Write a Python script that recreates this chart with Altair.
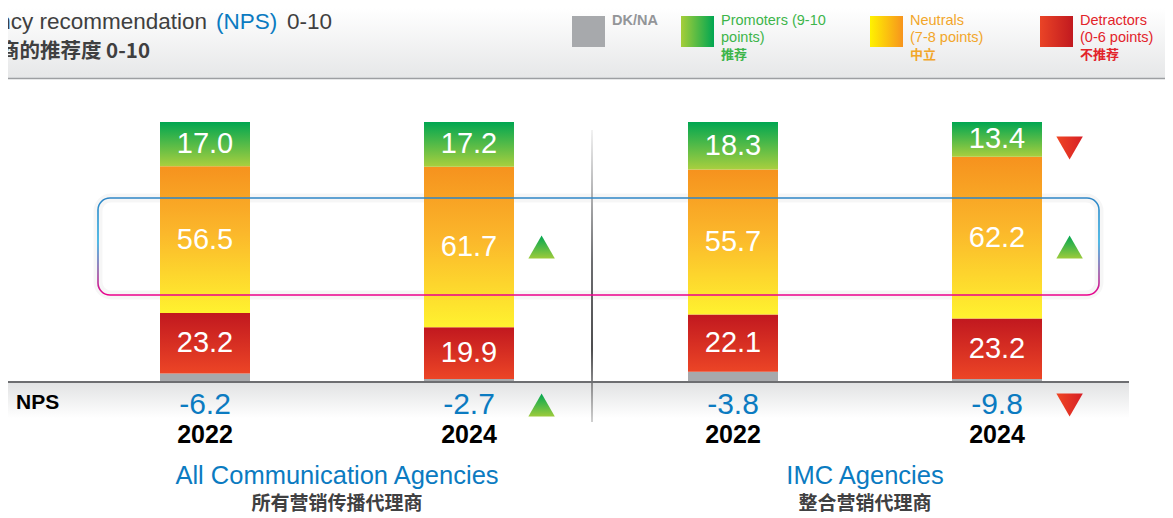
import altair as alt
import pandas as pd

# ---------------- data ----------------
groups = ["All Communication Agencies", "All Communication Agencies", "IMC Agencies", "IMC Agencies"]
group_names = ["All Communication Agencies", "IMC Agencies"]
group_cn = ["所有营销传播代理商", "整合营销代理商"]
years = ["2022", "2024", "2022", "2024"]
promoters = [17.0, 17.2, 18.3, 13.4]
neutrals = [56.5, 61.7, 55.7, 62.2]
detractors = [23.2, 19.9, 22.1, 23.2]
nps = [-6.2, -2.7, -3.8, -9.8]
# significance arrows (2024 vs 2022)
promoter_change = [None, None, None, "down"]
neutral_change = [None, "up", None, "up"]
nps_change = [None, "up", None, "down"]

title_en = ["Agency recommendation", "(NPS)", "0-10"]
title_cn = "代理商的推荐度 0-10"
legend_items = [
    ("DK/NA", [], "#939598"),
    ("Promoters (9-10", ["points)", "推荐"], "#3db54a"),
    ("Neutrals", ["(7-8 points)", "中立"], "#f2a62a"),
    ("Detractors", ["(0-6 points)", "不推荐"], "#e2232a"),
]

# ---------------- tables ----------------
rows = []
for i in range(4):
    dk = round(100 - promoters[i] - neutrals[i] - detractors[i], 1)
    base = 0.0
    for seg, val in [("DK/NA", dk), ("Detractors", detractors[i]),
                     ("Neutrals", neutrals[i]), ("Promoters", promoters[i])]:
        rows.append(dict(idx=i, segment=seg, y0=base, y1=base + val,
                         mid=base + val / 2, label=f"{val:.1f}"))
        base += val
seg_df = pd.DataFrame(rows)

bar_df = pd.DataFrame(dict(idx=list(range(4)), year=years, group=groups,
                           nps=[f"{v:.1f}" for v in nps]))
grp_df = pd.DataFrame(dict(group=group_names, cn=group_cn,
                           gx=[bar_df[bar_df.group == g].idx.mean() for g in group_names]))

arrow_rows = []
for rowname, lst in [("Promoters", promoter_change), ("Neutrals", neutral_change), ("NPS", nps_change)]:
    for i, d in enumerate(lst):
        if d:
            arrow_rows.append(dict(idx=i, ax=i + 0.275, row=rowname, dir=d))
arrow_df = pd.DataFrame(arrow_rows)

one = pd.DataFrame({"k": [0]})

FONT = "Liberation Sans"
CJK = "Noto Sans CJK SC"
BLUE = "#0b7bc1"

W, H = 1157, 507
xs = alt.Scale(domain=[0, 3], range=[197, 989], padding=0)
ys = alt.Scale(domain=[0, 100], range=[374, 114], padding=0)


def grad(stops, horizontal=False):
    g = {"gradient": "linear", "x1": 0, "y1": 0,
         "x2": 1 if horizontal else 0, "y2": 0 if horizontal else 1,
         "stops": [{"offset": o, "color": c} for o, c in stops]}
    return g


def box(x, x2, y, y2, **kw):
    return alt.Chart(one).mark_rect(**kw).encode(
        x=alt.value(x), x2=alt.value(x2), y=alt.value(y), y2=alt.value(y2))


def label(text, x, y, **kw):
    return alt.Chart(one).mark_text(**kw).encode(
        x=alt.value(x), y=alt.value(y), text=alt.value(text))


layers = []
# header band
layers.append(box(0, W, 0, 70, fill=grad([(0, "#ffffff"), (1, "#e6e7e8")])))
layers.append(alt.Chart(one).mark_rule(stroke="#9d9fa2", strokeWidth=1.5).encode(
    x=alt.value(0), x2=alt.value(W), y=alt.value(70.5)))
# NPS band
layers.append(box(0, 1121, 374, 410, fill=grad([(0, "#e1e2e3"), (1, "#ffffff")])))
# glow behind highlight
layers.append(box(90, 1091, 190, 287, fill="transparent", stroke="#000000",
                  strokeOpacity=0.035, strokeWidth=9, cornerRadius=13))
# vertical divider
layers.append(box(583, 585, 122, 414, fill=grad([(0, "#f2f2f2"), (0.45, "#6d6e71"),
                                                  (0.75, "#4d4d4f"), (1, "#d0d0d0")])))

seg_fill = {
    "DK/NA": "#a7a9ac",
    "Detractors": grad([(0, "#c1181f"), (1, "#ec4526")]),
    "Neutrals": grad([(0, "#f6921e"), (0.45, "#fbb72b"), (1, "#fff22f")]),
    "Promoters": grad([(0, "#00a651"), (1, "#a9cf3e")]),
}
for seg, f in seg_fill.items():
    layers.append(
        alt.Chart(seg_df).transform_filter(alt.datum.segment == seg)
        .mark_bar(size=90, fill=f)
        .encode(x=alt.X("idx:Q", scale=xs, axis=None),
                y=alt.Y("y0:Q", scale=ys, axis=None), y2="y1:Q"))

# baseline
layers.append(alt.Chart(one).mark_rule(stroke="#6d6e71", strokeWidth=2).encode(
    x=alt.value(0), x2=alt.value(1121), y=alt.value(374)))

# highlight box
layers.append(box(90, 1091, 190, 287, fill="transparent", strokeWidth=1.6, cornerRadius=12,
                  stroke=grad([(0, "#2f86c6"), (0.45, "#27aae1"), (0.75, "#8e5aa6"), (1, "#ec008c")])))

# segment labels
layers.append(
    alt.Chart(seg_df).transform_filter(alt.datum.segment != "DK/NA")
    .mark_text(color="white", fontSize=29, font=FONT, baseline="middle")
    .encode(x=alt.X("idx:Q", scale=xs), y=alt.Y("mid:Q", scale=ys), text="label:N"))

# arrows
row_y = {"Promoters": 140, "Neutrals": 239, "NPS": 397}
for rowname, ypix in row_y.items():
    for d, shape, f in [("up", "triangle-up", grad([(0, "#00a651"), (1, "#9ccb3b")])),
                        ("down", "triangle-down", grad([(0, "#ef4623"), (1, "#d71f26")], horizontal=True))]:
        layers.append(
            alt.Chart(arrow_df)
            .transform_filter((alt.datum.row == rowname) & (alt.datum.dir == d))
            .mark_point(shape=shape, size=700, filled=True, fill=f, strokeWidth=0, opacity=1)
            .encode(x=alt.X("ax:Q", scale=xs), y=alt.value(ypix)))

# NPS values and years
layers.append(alt.Chart(bar_df).mark_text(color=BLUE, fontSize=30, font=FONT, baseline="middle")
              .encode(x=alt.X("idx:Q", scale=xs), y=alt.value(397), text="nps:N"))
layers.append(alt.Chart(bar_df).mark_text(color="#000000", fontSize=25, font=FONT,
                                          fontWeight="bold", baseline="middle")
              .encode(x=alt.X("idx:Q", scale=xs), y=alt.value(427), text="year:N"))
layers.append(label("NPS", 8, 395, align="left", baseline="middle", fontSize=21,
                    fontWeight="bold", font=FONT, color="#000000"))

# group labels
layers.append(alt.Chart(grp_df).mark_text(color=BLUE, fontSize=25.5, font=FONT, baseline="middle")
              .encode(x=alt.X("gx:Q", scale=xs), y=alt.value(467.5), text="group:N"))
layers.append(alt.Chart(grp_df).mark_text(color="#404041", fontSize=19, font=CJK,
                                          fontWeight="bold", baseline="middle")
              .encode(x=alt.X("gx:Q", scale=xs), y=alt.value(495.5), text="cn:N"))

# title
layers.append(label(title_en[0], 199, 14, align="right", baseline="middle", fontSize=22.5,
                    font=FONT, color="#3f3f40"))
layers.append(label(title_en[1], 208, 14, align="left", baseline="middle", fontSize=22.5,
                    font=FONT, color=BLUE))
layers.append(label(title_en[2], 279, 14, align="left", baseline="middle", fontSize=22.5,
                    font=FONT, color="#3f3f40"))
layers.append(label(title_cn, 142, 44, align="right", baseline="middle", fontSize=20.5,
                    font=CJK, fontWeight="bold", color="#3f3f40"))

# legend
sq_x = [564, 673, 862, 1032]
sq_fill = ["#a7a9ac",
           grad([(0, "#a6ce39"), (1, "#00a651")], horizontal=True),
           grad([(0, "#fff200"), (1, "#f7941d")], horizontal=True),
           grad([(0, "#ea4426"), (1, "#c1191f")], horizontal=True)]
for (head, extra, col), x0, f in zip(legend_items, sq_x, sq_fill):
    layers.append(box(x0, x0 + 33, 8, 39, fill=f))
    tx = x0 + 40
    layers.append(label(head, tx, 13, align="left", baseline="middle", fontSize=14.5,
                        font=FONT, color=col, fontWeight="bold" if head == "DK/NA" else "normal"))
    for k, t in enumerate(extra):
        is_cjk = any(ord(ch) > 0x2e80 for ch in t)
        layers.append(label(t, tx, 30 + 16.5 * k, align="left", baseline="middle",
                            fontSize=13 if is_cjk else 14.5, font=CJK if is_cjk else FONT,
                            fontWeight="bold" if is_cjk else "normal", color=col))

chart = alt.layer(*layers).properties(
    width=W, height=H, padding=0, autosize="none", background="white"
).configure_view(stroke=None)

chart.save("out.html", embed_options={"renderer": "svg", "actions": False})
